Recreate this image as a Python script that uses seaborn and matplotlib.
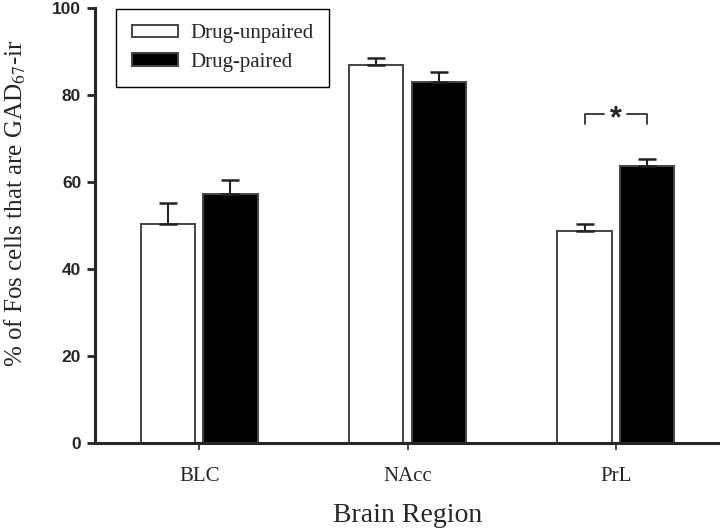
import pandas as pd
import matplotlib.pyplot as plt
import seaborn as sns

# values
regions = ["BLC", "NAcc", "PrL"]
groups = ["Drug-unpaired", "Drug-paired"]
unpaired_mean = [50.3, 86.9, 48.7]
unpaired_sem = [4.9, 1.7, 1.6]
paired_mean = [57.2, 83.1, 63.8]
paired_sem = [3.3, 2.3, 1.6]

df = pd.DataFrame({
    "region": regions * 2,
    "group": [groups[0]] * 3 + [groups[1]] * 3,
    "pct": unpaired_mean + paired_mean,
})

sns.set_style("ticks")
plt.rcParams["mathtext.fontset"] = "stix"

fig = plt.figure(figsize=(7.2, 5.32), dpi=100)
ax = fig.add_axes([0.132, 0.167, 0.868, 0.818])

sns.barplot(data=df, x="region", y="pct", hue="group", hue_order=groups,
            palette={groups[0]: "white", groups[1]: "black"},
            width=0.6, gap=0.13, edgecolor="#444444", linewidth=1.4,
            errorbar=None, ax=ax)

# one-sided (upper) error bars
for cont, sem in zip(ax.containers, [unpaired_sem, paired_sem]):
    for bar, e in zip(cont, sem):
        xc = bar.get_x() + bar.get_width() / 2
        ax.errorbar(xc, bar.get_height(), yerr=[[0], [e]], fmt="none",
                    ecolor="#222222", elinewidth=1.5, capsize=6.5, capthick=1.8)

# significance bracket for PrL
xl = ax.containers[0][2].get_x() + ax.containers[0][2].get_width() / 2
xr = ax.containers[1][2].get_x() + ax.containers[1][2].get_width() / 2
xm = (xl + xr) / 2
ax.plot([xl, xl, xm - 0.055], [73.3, 75.6, 75.6], color="#333333", lw=1.3)
ax.plot([xm + 0.055, xr, xr], [75.6, 75.6, 73.3], color="#333333", lw=1.3)
ax.text(xm, 74.4, "*", ha="center", va="center", fontsize=22,
        fontweight="bold", family="Liberation Sans")

ax.set_xlim(-0.5, 2.5)
ax.set_ylim(0, 100)
ax.set_yticks([0, 20, 40, 60, 80, 100])
for lab in ax.get_yticklabels():
    lab.set_family("Liberation Sans")
    lab.set_fontweight("bold")
    lab.set_fontsize(12.5)
for lab in ax.get_xticklabels():
    lab.set_family("Liberation Serif")
    lab.set_fontsize(15)

ax.set_xlabel("Brain Region", family="Liberation Serif", fontsize=20)
ax.xaxis.label.set_va("center")
ax.xaxis.set_label_coords(0.5, -0.1655)
ax.set_ylabel(r"% of Fos cells that are GAD$_{67}$-ir", family="Liberation Serif",
              fontsize=18)
ax.yaxis.label.set_va("center")
ax.yaxis.set_label_coords(-0.128, 0.552)

sns.despine(ax=ax)
ax.spines["left"].set_linewidth(2.2)
ax.spines["bottom"].set_linewidth(2.2)
ax.tick_params(axis="y", width=2, length=6, pad=4)
ax.tick_params(axis="x", width=1.2, length=5, pad=12)

handles, labels = ax.get_legend_handles_labels()
ax.legend(handles, labels, loc="upper left", bbox_to_anchor=(0.034, 0.998),
          borderaxespad=0, frameon=True, fancybox=False, edgecolor="black",
          framealpha=1, prop={"family": "Liberation Serif", "size": 15},
          handlelength=2.2, handleheight=0.55, handletextpad=0.6,
          borderpad=0.75, labelspacing=0.45)
ax.get_legend().get_frame().set_linewidth(1.0)

fig.savefig("out.png", dpi=100)
